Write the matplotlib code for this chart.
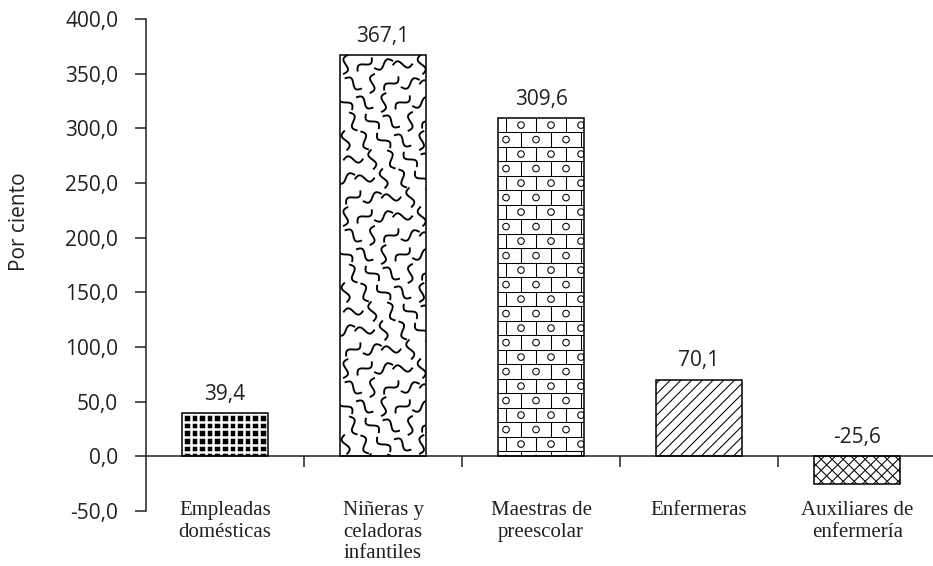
import numpy as np
import matplotlib
matplotlib.use("Agg")
import matplotlib.pyplot as plt
from matplotlib.collections import LineCollection
from matplotlib.transforms import IdentityTransform

# Datos del grafico
categorias = ["Empleadas\ndomésticas", "Niñeras y\nceladoras\ninfantiles",
              "Maestras de\npreescolar", "Enfermeras", "Auxiliares de\nenfermería"]
valores = [39.4, 367.1, 309.6, 70.1, -25.6]
marcas_y = [-50, 0, 50, 100, 150, 200, 250, 300, 350, 400]

def coma(v):
    return format(v, ".1f").replace(".", ",")

NEGRO = "#231f20"

fig = plt.figure(figsize=(9.33, 5.66), dpi=100)
ax = fig.add_axes([146 / 933, 55 / 566, 787 / 933, 492 / 566])
ax.set_xlim(-0.5, 4.48)
ax.set_ylim(-50, 400)

x = np.arange(len(valores))
ancho = 0.545

barras = ax.bar(x, valores, width=ancho, color="white", edgecolor="none", zorder=1)
barras[0].set_facecolor("black")


# Patrones de relleno (en pixeles)
def cuadricula(bb, paso=7.6):
    segs = []
    for xx in np.arange(bb.x0 + 1, bb.x1, paso):
        segs.append([(xx, bb.y0), (xx, bb.y1)])
    for yy in np.arange(bb.y1 - 1, bb.y0, -paso):
        segs.append([(bb.x0, yy), (bb.x1, yy)])
    return segs


def diagonales(bb, paso, signo=1):
    segs = []
    w = bb.x1 - bb.x0
    h = bb.y1 - bb.y0
    for c in np.arange(-w - h, w + h, paso):
        if signo > 0:
            segs.append([(bb.x0 - 5, bb.y0 + c - 5), (bb.x1 + h + 5, bb.y0 + c + w + h + 5)])
        else:
            segs.append([(bb.x0 - 5, bb.y1 - c + 5), (bb.x1 + h + 5, bb.y1 - c - w - h - 5)])
    return segs


def garabatos(bb, celda=19.0, largo=20.0, amp=3.6):
    segs = []
    angulos = [75, 115, 20, 150, 95, 45, 130, 5]
    t = np.linspace(-1, 1, 30)
    filas = int((bb.y1 - bb.y0) / celda) + 2
    cols = int((bb.x1 - bb.x0) / celda) + 2
    for i in range(filas):
        for j in range(cols):
            cx = bb.x0 + (j + 0.3 + 0.4 * (i % 2)) * celda
            cy = bb.y1 - (i + 0.5) * celda
            k = (i * 3 + j * 5) % 8
            a = np.deg2rad(angulos[k])
            s = 1 if (i + j) % 2 == 0 else -1
            px = t * largo / 2
            py = s * amp * np.sin(np.pi * t)
            xs = cx + px * np.cos(a) - py * np.sin(a)
            ys = cy + px * np.sin(a) + py * np.cos(a)
            segs.append(np.column_stack([xs, ys]))
    return segs


def ladrillos(bb, w=30.0, h=14.5, r=3.3):
    segs = []
    ang = np.linspace(0, 2 * np.pi, 24)
    k = 0
    yy = bb.y1
    while yy > bb.y0 - h:
        y_inf = yy - h
        segs.append([(bb.x0, y_inf), (bb.x1, y_inf)])
        desf = (k % 2) * w / 2
        for xx in np.arange(bb.x0 - w + desf + 8, bb.x1 + w, w):
            segs.append([(xx, y_inf), (xx, yy)])
            cx = xx + w / 2
            cy = yy - h / 2
            segs.append(np.column_stack([cx + r * np.cos(ang), cy + r * np.sin(ang)]))
        yy = y_inf
        k += 1
    return segs


estilos = [
    (cuadricula, "white", 1.8),
    (garabatos, "black", 1.35),
    (ladrillos, "black", 0.75),
    (lambda bb: diagonales(bb, 10.7, 1), "black", 0.75),
    (lambda bb: diagonales(bb, 11.0, 1) + diagonales(bb, 11.0, -1), "black", 0.75),
]

for barra, (fn, color, lw) in zip(barras, estilos):
    bb = barra.get_window_extent()
    lc = LineCollection(fn(bb), colors=color, linewidths=lw,
                        transform=IdentityTransform(), zorder=1.5)
    ax.add_collection(lc)
    lc.set_clip_box(bb)

# Contorno de las barras
ax.bar(x, valores, width=ancho, fill=False, edgecolor="black", linewidth=1.1, zorder=3)

# Etiquetas de valores
for xi, v in zip(x, valores):
    ax.annotate(coma(v), (xi, max(v, 0)), xytext=(0, 6), textcoords="offset points",
                ha="center", va="bottom", fontsize=15, family="Open Sans", color=NEGRO)

# Ejes
for lado in ["top", "right"]:
    ax.spines[lado].set_visible(False)
ax.spines["bottom"].set_position(("data", 0))
ax.spines["bottom"].set_linewidth(1.1)
ax.spines["left"].set_linewidth(1.1)
ax.spines["bottom"].set_color(NEGRO)
ax.spines["left"].set_color(NEGRO)

ax.set_yticks(marcas_y)
ax.set_yticklabels([coma(v) for v in marcas_y], family="Open Sans", fontsize=15, color=NEGRO)
ax.tick_params(axis="y", direction="out", length=8, width=1.1, pad=12, color=NEGRO)

ax.set_xticks(x)
ax.set_xticklabels(categorias, family="Liberation Serif", fontsize=15, color=NEGRO)
ax.set_xticks([0.5, 1.5, 2.5, 3.5], minor=True)
ax.tick_params(axis="x", which="major", length=0, pad=32)
ax.tick_params(axis="x", which="minor", direction="out", length=8, width=1.1, color=NEGRO)

fig.text(19.5 / 933, 344 / 566, "Por ciento", rotation=90, ha="center", va="center",
         fontsize=15, family="Open Sans", color=NEGRO)

fig.savefig("out.png", dpi=100)
